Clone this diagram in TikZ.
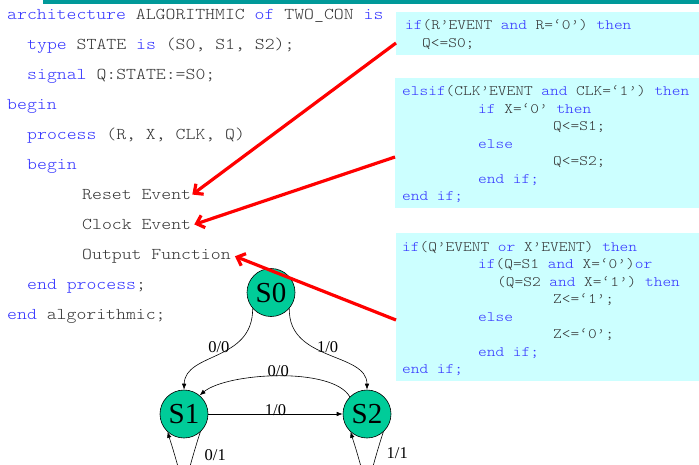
\documentclass[tikz,border=0pt]{standalone}
\usepackage{fontspec}
\setmainfont{Liberation Serif}
\newfontfamily\codefont[FakeStretch=1.143]{lmmonolt10-regular.otf}
\usetikzlibrary{arrows.meta}
\definecolor{kwblue}{HTML}{3333FF}
\definecolor{codegray}{HTML}{333333}
\definecolor{boxcyan}{HTML}{CCFFFF}
\definecolor{barteal}{HTML}{009999}
\definecolor{stgreen}{HTML}{00CC99}
\newcommand{\kw}[1]{\textcolor{kwblue}{#1}}
\begin{document}
\begin{tikzpicture}[x=1pt,y=1pt,
  code/.style={anchor=base west, inner sep=0pt, text=codegray, font=\codefont\fontsize{16.5}{19}\selectfont},
  boxcode/.style={anchor=base west, inner sep=0pt, text=codegray, font=\codefont\fontsize{14.5}{17}\selectfont},
  codebox/.style={anchor=north west, fill=boxcyan, draw=none, inner sep=0pt},
  state/.style={circle, draw=black, line width=0.6pt, fill=stgreen, minimum size=48pt, inner sep=0pt, font=\fontsize{29}{29}\selectfont},
  edge/.style={-{Latex[length=6pt,width=4.5pt]}, line width=0.6pt},
  lbl/.style={inner sep=0pt, font=\fontsize{16.5}{16.5}\selectfont},
  redarrow/.style={draw=red, line width=3.2pt, -{Straight Barb[length=7pt,width=13pt]}}
]
\useasboundingbox (0,0) rectangle (699,-464);
\clip (0,0) rectangle (699,-464);

% top bar
\node[fill=barteal, anchor=north west, minimum width=656pt, minimum height=4pt, inner sep=0pt] (bar) at (43,0) {};

% code boxes
\node[codebox, minimum width=303pt, minimum height=43pt] (box1) at (396,-12) {};
\node[codebox, minimum width=304pt, minimum height=130pt] (box2) at (395,-78) {};
\node[codebox, minimum width=303pt, minimum height=148pt] (box3) at (396,-233) {};

% left code
\node[code] (l1) at (7,-19.5) {\kw{architecture} ALGORITHMIC \kw{of} TWO\_CON \kw{is}};
\node[code] (l2) at (27,-49.5) {\kw{type} STATE \kw{is} (S0, S1, S2);};
\node[code] (l3) at (27,-79.5) {\kw{signal} Q:STATE:=S0;};
\node[code] (l4) at (7,-109.5) {\kw{begin}};
\node[code] (l5) at (27,-139.5) {\kw{process} (R, X, CLK, Q)};
\node[code] (l6) at (27,-169.5) {\kw{begin}};
\node[code] (reset) at (82,-199.5) {Reset Event};
\node[code] (clock) at (82,-229.5) {Clock Event};
\node[code] (output) at (82,-259.5) {Output Function};
\node[code] (l10) at (27,-289.5) {\kw{end process};};
\node[code] (l11) at (7,-319.5) {\kw{end} algorithmic;};

% box 1 code
\node[boxcode] (a1) at (405,-29.3) {\kw{if}(R’EVENT \kw{and} R=‘0’) \kw{then}};
\node[boxcode] (a2) at (422,-47.3) {Q<=S0;};

% box 2 code
\node[boxcode] (b1) at (402,-95.7) {\kw{elsif}(CLK’EVENT \kw{and} CLK=‘1’) \kw{then}};
\node[boxcode] (b2) at (478,-113.2) {\kw{if} X=‘0’ \kw{then}};
\node[boxcode] (b3) at (553,-130.7) {Q<=S1;};
\node[boxcode] (b4) at (478,-148.2) {\kw{else}};
\node[boxcode] (b5) at (553,-165.7) {Q<=S2;};
\node[boxcode] (b6) at (478,-183.2) {\kw{end if;}};
\node[boxcode] (b7) at (402,-200.7) {\kw{end if;}};

% box 3 code
\node[boxcode] (c1) at (402,-251) {\kw{if}(Q’EVENT \kw{or} X’EVENT) \kw{then}};
\node[boxcode] (c2) at (478,-268.5) {\kw{if}(Q=S1 \kw{and} X=‘0’)\kw{or}};
\node[boxcode] (c3) at (497,-286) {(Q=S2 \kw{and} X=‘1’) \kw{then}};
\node[boxcode] (c4) at (553,-303.5) {Z<=‘1’;};
\node[boxcode] (c5) at (478,-321) {\kw{else}};
\node[boxcode] (c6) at (553,-338.5) {Z<=‘0’;};
\node[boxcode] (c7) at (478,-356) {\kw{end if;}};
\node[boxcode] (c8) at (402,-373.5) {\kw{end if;}};

% state diagram
\node[state] (S0) at (271,-292.5) {S0};
\node[state] (S1) at (184,-414) {S1};
\node[state] (S2) at (367,-414) {S2};

\draw[edge] (S0.-139) .. controls (253,-362) and (185,-352) .. node[lbl, pos=0.5, anchor=base, yshift=3pt] {0/0} (S1.north);
\draw[edge] (S0.-41) .. controls (288,-362) and (367,-352) .. node[lbl, pos=0.5, anchor=base, yshift=3pt] {1/0} (S2.north);
\draw[edge] (S2.135) to[out=120, in=40, looseness=0.6] node[lbl, pos=0.5, anchor=base] {0/0} (S1.50);
\draw[edge] (S1) -- node[lbl, anchor=base, yshift=-1pt] {1/0} (S2);
\draw[edge] (S1.-48) .. controls +(-108:71) and +(-72:71) .. node[lbl, pos=0.15, anchor=west, xshift=12pt, yshift=3pt] {0/1} (S1.-133);
\draw[edge] (S2.-48) .. controls +(-108:71) and +(-72:71) .. node[lbl, pos=0.15, anchor=west, xshift=11pt, yshift=5pt] {1/1} (S2.-133);

% red arrows
\coordinate (r1) at (box1.west |- 0,-43);
\coordinate (r2) at (box2.west |- 0,-157);
\coordinate (r3) at (box3.west |- 0,-320);
\draw[redarrow] (r1) -- ([xshift=1pt]reset.east);
\draw[redarrow] (r2) -- ([xshift=3pt]clock.east);
\draw[redarrow] (r3) -- ([xshift=4pt]output.east);
\end{tikzpicture}
\end{document}
